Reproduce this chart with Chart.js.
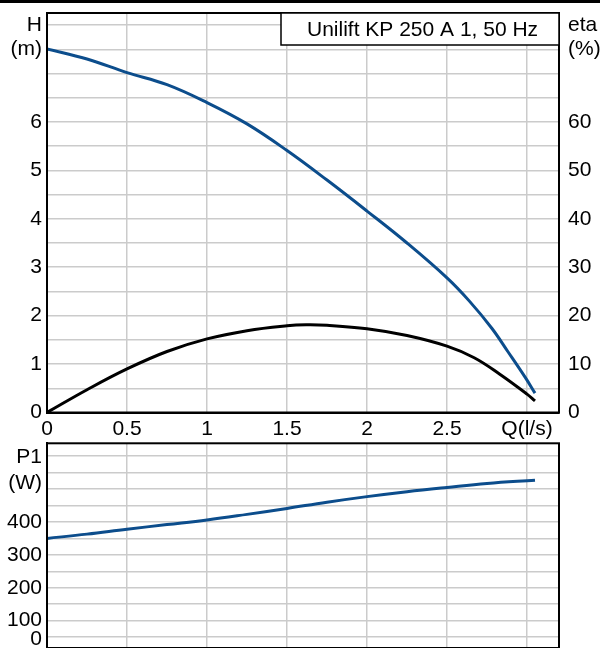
<!DOCTYPE html>
<html>
<head>
<meta charset="utf-8">
<script src="https://cdn.jsdelivr.net/npm/chart.js@4/dist/chart.umd.min.js"></script>
<style>
  html, body { margin: 0; padding: 0; background: #fff; overflow: hidden; }
  body { width: 600px; height: 648px; position: relative; }
  #topBar { position: absolute; left: 0; top: 0; width: 600px; height: 3px; background: #000; z-index: 5; }
  #wrapTop { position: absolute; left: 0; top: 0; width: 600px; height: 440px; }
  #wrapBottom { position: absolute; left: 0; top: 440px; width: 600px; height: 208px; }
</style>
</head>
<body>
<div id="topBar"></div>
<div id="wrapTop"><canvas id="curveChart"></canvas></div>
<div id="wrapBottom"><canvas id="powerChart"></canvas></div>
<script>
// du lieu doc tu hinh (Q l/s)
const titleText = "Unilift KP 250 A 1, 50 Hz";

const headQ = [0, 0.25, 0.5, 0.75, 1, 1.25, 1.5, 1.75, 2, 2.25, 2.5, 2.64, 2.78, 2.88, 2.99, 3.05];
const headH = [7.51, 7.30, 7.02, 6.77, 6.40, 5.96, 5.41, 4.80, 4.16, 3.50, 2.78, 2.30, 1.74, 1.26, 0.72, 0.40];

const etaQ = [0, 0.25, 0.5, 0.75, 1, 1.25, 1.5, 1.62, 1.75, 2, 2.25, 2.5, 2.67, 2.83, 3.0, 3.05];
const etaVal = [0, 4.7, 9.0, 12.6, 15.2, 16.9, 17.9, 18.1, 18.0, 17.3, 15.9, 13.7, 11.3, 7.9, 3.8, 2.4];

const powerQ = [0, 0.25, 0.5, 0.75, 1, 1.25, 1.5, 1.75, 2, 2.25, 2.5, 2.75, 3.05];
const powerP1 = [350, 363, 378, 392, 406, 423, 441, 460, 477, 492, 505, 517, 527];

// tick labels
const qLabels = { 0: "0", 0.5: "0.5", 1: "1", 1.5: "1.5", 2: "2", 2.5: "2.5", 3: "Q(l/s)" };
const headLabels = { 0: "0", 1: "1", 2: "2", 3: "3", 4: "4", 5: "5", 6: "6", 7.5: "(m)", 8: "H" };
const etaLabels = { 0: "0", 1: "10", 2: "20", 3: "30", 4: "40", 5: "50", 6: "60", 7.5: "(%)", 8: "eta" };
const p1Labels = { 100: "100", 200: "200", 300: "300", 400: "400" };

const FONT = "'Liberation Sans', Arial, sans-serif";
const BLUE = "rgb(12,77,140)";
const GRID = "#cbcbcb";

Chart.defaults.font.family = FONT;
Chart.defaults.font.size = 21;
Chart.defaults.color = "#000";

function toXY(xs, ys) {
  return xs.map((x, i) => ({ x: x, y: ys[i] }));
}

// co dinh kich thuoc truc, bo padding do nhan gay ra
function fixSize(w, h) {
  return s => {
    if (w !== null) s.width = w;
    if (h !== null) s.height = h;
    s.paddingTop = 0; s.paddingBottom = 0;
    s.paddingLeft = 0; s.paddingRight = 0;
  };
}

// khung den quanh vung ve
const framePlugin = {
  id: "frame",
  afterDraw(chart) {
    const a = chart.chartArea, c = chart.ctx;
    c.save();
    c.strokeStyle = "#000";
    c.lineWidth = 2;
    c.strokeRect(a.left, a.top, a.right - a.left, a.bottom - a.top);
    c.restore();
  }
};

// hop tieu de o goc tren phai
const titleBoxPlugin = {
  id: "titleBox",
  afterDraw(chart) {
    const a = chart.chartArea, c = chart.ctx;
    const w = 278, h = 32;
    c.save();
    c.fillStyle = "#fff";
    c.fillRect(a.right - w, a.top, w, h);
    c.strokeStyle = "#000";
    c.lineWidth = 1.5;
    c.strokeRect(a.right - w, a.top, w, h);
    c.fillStyle = "#000";
    c.font = "21px " + FONT;
    c.textBaseline = "middle";
    c.fillText(titleText, a.right - w + 26, a.top + h / 2 + 1);
    c.restore();
  }
};

// nhan don vi P1 (W) va so 0 bi kep o day khung
const powerLabelPlugin = {
  id: "powerLabels",
  afterDraw(chart) {
    const y = chart.scales.y, a = chart.chartArea, c = chart.ctx;
    c.save();
    c.fillStyle = "#000";
    c.font = "21px " + FONT;
    c.textAlign = "right";
    c.textBaseline = "middle";
    c.fillText("P1", a.left - 5, y.getPixelForValue(597));
    c.fillText("(W)", a.left - 5, y.getPixelForValue(519));
    c.fillText("0", a.left - 5, Math.min(y.getPixelForValue(0), a.bottom - 9));
    c.restore();
  }
};

const topCanvas = document.getElementById("curveChart");
topCanvas.width = 600; topCanvas.height = 440;

new Chart(topCanvas.getContext("2d"), {
  type: "line",
  data: {
    datasets: [
      {
        label: "H",
        data: toXY(headQ, headH),
        yAxisID: "y",
        borderColor: BLUE,
        borderWidth: 3,
        pointRadius: 0,
        tension: 0.4,
        fill: false
      },
      {
        label: "eta",
        data: toXY(etaQ, etaVal),
        yAxisID: "yEta",
        borderColor: "#000",
        borderWidth: 3,
        pointRadius: 0,
        tension: 0.4,
        fill: false
      }
    ]
  },
  options: {
    responsive: false,
    animation: false,
    layout: { padding: { top: 13, left: 0, right: 0, bottom: 0 } },
    plugins: { legend: { display: false }, tooltip: { enabled: false } },
    scales: {
      x: {
        type: "linear",
        min: 0, max: 3.2,
        afterFit: fixSize(null, 27.5),
        grid: { color: GRID, lineWidth: 1.5, drawTicks: false },
        border: { color: "#000", width: 2 },
        ticks: {
          stepSize: 0.5, padding: 4, maxRotation: 0, autoSkip: false, includeBounds: false,
          callback: v => (qLabels[v] !== undefined ? qLabels[v] : "")
        }
      },
      y: {
        position: "left",
        min: 0, max: 8.25,
        afterFit: fixSize(47, null),
        grid: { color: GRID, lineWidth: 1.5, drawTicks: false },
        border: { color: "#000", width: 2 },
        ticks: {
          stepSize: 0.5, padding: 5, autoSkip: false, includeBounds: false,
          callback: v => (headLabels[v] !== undefined ? headLabels[v] : "")
        }
      },
      yEta: {
        position: "right",
        min: 0, max: 82.5,
        afterFit: fixSize(41, null),
        grid: { drawOnChartArea: false, drawTicks: false },
        border: { color: "#000", width: 2 },
        ticks: {
          stepSize: 5, padding: 9, autoSkip: false, includeBounds: false,
          callback: v => {
            const k = v / 10;
            return etaLabels[k] !== undefined ? etaLabels[k] : "";
          }
        }
      }
    }
  },
  plugins: [framePlugin, titleBoxPlugin]
});

const botCanvas = document.getElementById("powerChart");
botCanvas.width = 600; botCanvas.height = 208;

new Chart(botCanvas.getContext("2d"), {
  type: "line",
  data: {
    datasets: [
      {
        label: "P1",
        data: toXY(powerQ, powerP1),
        borderColor: BLUE,
        borderWidth: 3,
        pointRadius: 0,
        tension: 0.4,
        fill: false
      }
    ]
  },
  options: {
    responsive: false,
    animation: false,
    layout: { padding: { top: 3.3, left: 0, right: 41, bottom: 0 } },
    plugins: { legend: { display: false }, tooltip: { enabled: false } },
    scales: {
      x: {
        type: "linear",
        min: 0, max: 3.2,
        afterFit: fixSize(null, 0),
        grid: { color: GRID, lineWidth: 1.5, drawTicks: false },
        border: { display: false },
        ticks: { display: false, stepSize: 0.5, includeBounds: false }
      },
      y: {
        position: "left",
        min: 17, max: 639,
        afterFit: fixSize(47, null),
        grid: { color: GRID, lineWidth: 1.5, drawTicks: false },
        border: { color: "#000", width: 2 },
        ticks: {
          stepSize: 50, padding: 5, autoSkip: false, includeBounds: false,
          callback: v => (p1Labels[v] !== undefined ? p1Labels[v] : "")
        }
      }
    }
  },
  plugins: [framePlugin, powerLabelPlugin]
});
</script>
</body>
</html>
